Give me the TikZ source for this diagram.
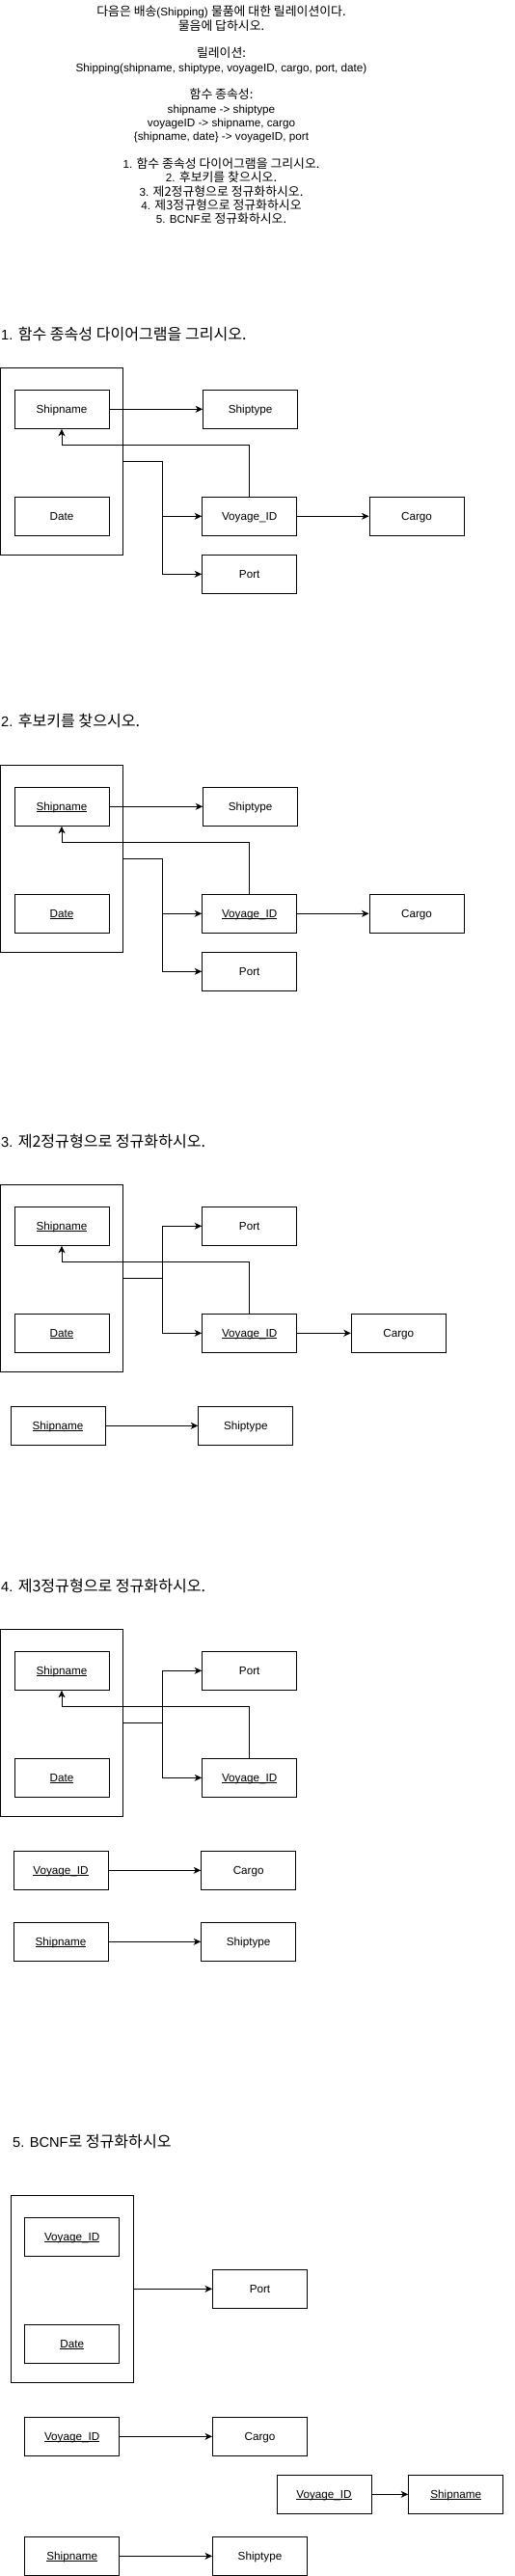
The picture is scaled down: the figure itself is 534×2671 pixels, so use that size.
\documentclass[tikz,border=0pt]{standalone}
\usepackage{fontspec}
\setmainfont{Liberation Sans}
\newfontfamily\krfont[Scale=1.1]{Noto Sans CJK KR}
\newcommand\kor[1]{{\krfont #1}}
\newcommand\myul[1]{\setbox0\hbox{#1}\rlap{\rule[-1.5pt]{\wd0}{0.8pt}}\box0}
\usetikzlibrary{arrows.meta}
\tikzset{
 attr/.style={draw, line width=1pt, minimum width=98pt, minimum height=40pt, inner sep=0pt,
   text height=8.6pt, text depth=0pt, font=\fontsize{11.7}{14}\selectfont},
 grp/.style={draw, line width=1pt, minimum width=127.2pt, minimum height=194pt, inner sep=0pt},
 arr/.style={line width=1pt, -{Stealth[length=7.5pt,width=7pt,inset=2.2pt]}},
 ln/.style={line width=1pt},
 ttl/.style={anchor=base west, inner sep=0pt, font=\fontsize{14.6}{17}\selectfont},
 hdr/.style={anchor=north, inner sep=0pt, align=center, font=\fontsize{11.7}{14.33}\selectfont},
}
\begin{document}
\begin{tikzpicture}[x=1pt,y=-1pt]
\useasboundingbox (0,0) rectangle (534,2671);

% header
\node[hdr] (hd) at (229.5,6) {\kor{다음은 배송}(Shipping) \kor{물품에 대한 릴레이션이다.}\\
\kor{물음에 답하시오.}\\ ~\\
\kor{릴레이션:}\\
Shipping(shipname, shiptype, voyageID, cargo, port, date)\\ ~\\
\kor{함수 종속성:}\\
shipname -> shiptype\\
voyageID -> shipname, cargo\\
\{shipname, date\} -> voyageID, port\\ ~\\
1. \kor{함수 종속성 다이어그램을 그리시오.}\\
2. \kor{후보키를 찾으시오.}\\
3. \kor{제2정규형으로 정규화하시오.}\\
4. \kor{제3정규형으로 정규화하시오}\\
5. BCNF\kor{로 정규화하시오.}};

% ---------- section 1
\node[ttl] (h1) at (1,352.3) {1. \kor{함수 종속성 다이어그램을 그리시오.}};
\node[grp] (g1) at (64.1,478.3) {};
\node[attr] (s1) at (64,424.3) {Shipname};
\node[attr] (t1) at (259.7,424.3) {Shiptype};
\node[attr] (d1) at (64,535.3) {Date};
\node[attr] (v1) at (258.7,535.3) {Voyage\_ID};
\node[attr] (c1) at (432,535.3) {Cargo};
\node[attr] (p1) at (258.7,595.3) {Port};
\coordinate (k1) at (258.7,461.3);
\coordinate (j1) at (168.7,478.3);
\draw[arr] (s1) -- (t1);
\draw[arr] (v1) -- (c1);
\draw[arr] (v1.north) -- (k1) -| (s1.south);
\draw[ln] (g1.east) -- (j1);
\draw[arr] (j1) |- (v1.west);
\draw[arr] (j1) |- (p1.west);

% ---------- section 2
\node[ttl] (h2) at (1,753.7) {2. \kor{후보키를 찾으시오.}};
\node[grp] (g2) at (64.1,890.3) {};
\node[attr] (s2) at (64,836.3) {\myul{Shipname}};
\node[attr] (t2) at (259.7,836.3) {Shiptype};
\node[attr] (d2) at (64,947.3) {\myul{Date}};
\node[attr] (v2) at (258.7,947.3) {\myul{Voyage\_ID}};
\node[attr] (c2) at (432,947.3) {Cargo};
\node[attr] (p2) at (258.7,1007.3) {Port};
\coordinate (k2) at (258.7,873.3);
\coordinate (j2) at (168.7,890.3);
\draw[arr] (s2) -- (t2);
\draw[arr] (v2) -- (c2);
\draw[arr] (v2.north) -- (k2) -| (s2.south);
\draw[ln] (g2.east) -- (j2);
\draw[arr] (j2) |- (v2.west);
\draw[arr] (j2) |- (p2.west);

% ---------- section 3
\node[ttl] (h3) at (1,1189.3) {3. \kor{제2정규형으로 정규화하시오.}};
\node[grp] (g3) at (64.1,1325.3) {};
\node[attr] (s3) at (64,1271.3) {\myul{Shipname}};
\node[attr] (p3) at (258.7,1271.3) {Port};
\node[attr] (d3) at (64,1382.3) {\myul{Date}};
\node[attr] (v3) at (258.7,1382.3) {\myul{Voyage\_ID}};
\node[attr] (c3) at (413.3,1382.3) {Cargo};
\coordinate (k3) at (258.7,1308.3);
\coordinate (j3) at (168.7,1325.3);
\draw[arr] (v3.north) -- (k3) -| (s3.south);
\draw[ln] (g3.east) -- (j3);
\draw[arr] (j3) |- (p3.west);
\draw[arr] (j3) |- (v3.west);
\draw[arr] (v3) -- (c3);
\node[attr] (s3b) at (60,1478.3) {\myul{Shipname}};
\node[attr] (t3b) at (254.8,1478.3) {Shiptype};
\draw[arr] (s3b) -- (t3b);

% ---------- section 4
\node[ttl] (h4) at (1,1650) {4. \kor{제3정규형으로 정규화하시오.}};
\node[grp] (g4) at (64.1,1786.3) {};
\node[attr] (s4) at (64,1732.3) {\myul{Shipname}};
\node[attr] (p4) at (258.7,1732.3) {Port};
\node[attr] (d4) at (64,1843.3) {\myul{Date}};
\node[attr] (v4) at (258.7,1843.3) {\myul{Voyage\_ID}};
\coordinate (k4) at (258.7,1769.7);
\coordinate (j4) at (168.7,1786.3);
\draw[arr] (v4.north) -- (k4) -| (s4.south);
\draw[ln] (g4.east) -- (j4);
\draw[arr] (j4) |- (p4.west);
\draw[arr] (j4) |- (v4.west);
\node[attr] (v4b) at (63,1939.3) {\myul{Voyage\_ID}};
\node[attr] (c4b) at (257.7,1939.3) {Cargo};
\draw[arr] (v4b) -- (c4b);
\node[attr] (s4b) at (63,2013.3) {\myul{Shipname}};
\node[attr] (t4b) at (257.7,2013.3) {Shiptype};
\draw[arr] (s4b) -- (t4b);

% ---------- section 5
\node[ttl] (h5) at (13,2226.7) {5. BCNF\kor{로 정규화하시오}};
\node[grp] (g5) at (74.7,2373.3) {};
\node[attr] (v5) at (74.7,2319.3) {\myul{Voyage\_ID}};
\node[attr] (d5) at (74.7,2430.3) {\myul{Date}};
\node[attr] (p5) at (269.5,2373.3) {Port};
\draw[arr] (g5.east) -- (p5.west);
\node[attr] (v5b) at (74.7,2526.3) {\myul{Voyage\_ID}};
\node[attr] (c5b) at (269.5,2526.3) {Cargo};
\draw[arr] (v5b) -- (c5b);
\node[attr] (v5c) at (336,2586.3) {\myul{Voyage\_ID}};
\node[attr] (s5c) at (472.7,2586.3) {\myul{Shipname}};
\draw[arr] (v5c) -- (s5c);
\node[attr] (s5d) at (74.7,2650.3) {\myul{Shipname}};
\node[attr] (t5d) at (269.5,2650.3) {Shiptype};
\draw[arr] (s5d) -- (t5d);
\end{tikzpicture}
\end{document}
